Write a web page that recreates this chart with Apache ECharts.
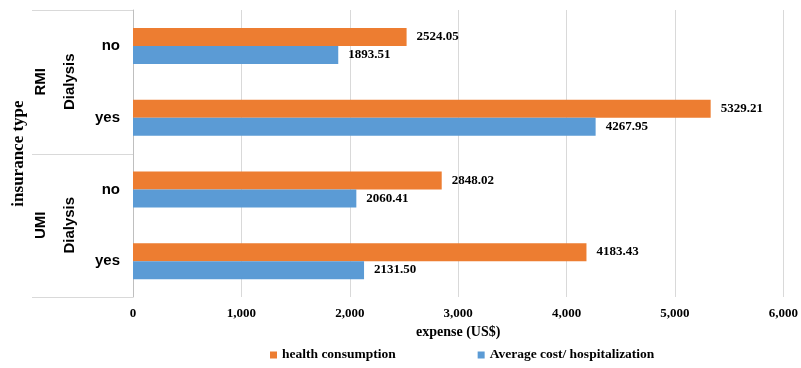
<!DOCTYPE html>
<html>
<head>
<meta charset="utf-8">
<script src="https://cdn.jsdelivr.net/npm/echarts@6/dist/echarts.min.js"></script>
<style>
  html, body { margin: 0; padding: 0; background: #fff; }
  #chart { width: 801px; height: 368px; }
</style>
</head>
<body>
<div id="chart"></div>
<script>
// categories, top to bottom
const dialysis = ["no", "yes", "no", "yes"];
const insurance = ["RMI", "RMI", "UMI", "UMI"];
const categories = ["RMI-no", "RMI-yes", "UMI-no", "UMI-yes"];

const healthConsumption = [2524.05, 5329.21, 2848.02, 4183.43];
const avgCost = [1893.51, 4267.95, 2060.41, 2131.50];

const xTicks = [0, 1000, 2000, 3000, 4000, 5000, 6000];

const ORANGE = "#ED7D31";
const BLUE = "#5B9BD5";
const SERIF = "'Liberation Serif', 'Times New Roman', serif";
const SANS = "'Liberation Sans', Arial, sans-serif";

const chart = echarts.init(document.getElementById("chart"));

const valueLabel = {
  show: true,
  position: "right",
  distance: 10,
  fontFamily: SERIF,
  fontWeight: "bold",
  fontSize: 13,
  color: "#000",
  formatter: (p) => p.value.toFixed(2),
};

const option = {
  animation: false,
  grid: { left: 133, right: 14, top: 10, bottom: 71 },
  legend: {
    bottom: 1,
    left: 265,
    itemWidth: 7,
    itemHeight: 7,
    itemGap: 82,
    icon: "rect",
    textStyle: {
      fontFamily: SERIF,
      fontWeight: "bold",
      fontSize: 13.5,
      color: "#000",
    },
    data: ["health consumption", "Average cost/ hospitalization"],
  },
  xAxis: {
    type: "value",
    min: xTicks[0],
    max: xTicks[xTicks.length - 1],
    interval: 1000,
    name: "expense (US$)",
    nameLocation: "middle",
    nameGap: 21,
    nameTextStyle: {
      fontFamily: SERIF,
      fontWeight: "bold",
      fontSize: 14,
      color: "#000",
    },
    axisLine: { show: false },
    axisTick: { show: false },
    axisLabel: {
      margin: 10,
      fontFamily: SERIF,
      fontWeight: "bold",
      fontSize: 13,
      color: "#000",
      formatter: (v) => v.toLocaleString("en-US"),
    },
    splitLine: { lineStyle: { color: "#d9d9d9", width: 1 } },
  },
  yAxis: {
    type: "category",
    inverse: true,
    data: categories,
    axisLine: { show: true, lineStyle: { color: "#bfbfbf" } },
    axisTick: { show: false },
    axisLabel: {
      margin: 13,
      fontFamily: SANS,
      fontWeight: "bold",
      fontSize: 15,
      color: "#000",
      formatter: (v, i) => dialysis[i],
    },
  },
  series: [
    {
      name: "health consumption",
      type: "bar",
      data: healthConsumption,
      barWidth: 18,
      barGap: "0%",
      itemStyle: { color: ORANGE },
      label: valueLabel,
    },
    {
      name: "Average cost/ hospitalization",
      type: "bar",
      data: avgCost,
      barWidth: 18,
      barGap: "0%",
      itemStyle: { color: BLUE },
      label: valueLabel,
    },
  ],
};

chart.setOption(option);

// group labels and separator lines, placed from the category axis scale
const groups = ["RMI", "UMI"];
const graphics = [];
const yOf = (i) => chart.convertToPixel({ yAxisIndex: 0 }, i);
const band = yOf(1) - yOf(0);
const axisX = chart.convertToPixel({ xAxisIndex: 0 }, 0);
const lineColor = "#d9d9d9";

const boundaries = [yOf(0) - band / 2];
groups.forEach((g) => {
  const idx = insurance.map((v, i) => (v === g ? i : -1)).filter((i) => i >= 0);
  const top = yOf(idx[0]) - band / 2;
  const bottom = yOf(idx[idx.length - 1]) + band / 2;
  boundaries.push(bottom);
  const mid = (top + bottom) / 2;
  graphics.push({
    type: "text",
    x: 41, y: mid, rotation: Math.PI / 2,
    style: { text: g, fontFamily: SANS, fontWeight: "bold", fontSize: 15,
      fill: "#000", align: "center", verticalAlign: "middle" },
  });
  graphics.push({
    type: "text",
    x: 70, y: mid, rotation: Math.PI / 2,
    style: { text: "Dialysis", fontFamily: SANS, fontWeight: "bold", fontSize: 15,
      fill: "#000", align: "center", verticalAlign: "middle" },
  });
});
boundaries.forEach((b) => {
  graphics.push({
    type: "line",
    shape: { x1: 32, y1: Math.round(b) + 0.5, x2: axisX, y2: Math.round(b) + 0.5 },
    style: { stroke: lineColor, lineWidth: 1 },
  });
});
graphics.push({
  type: "text",
  x: 19, y: (boundaries[0] + boundaries[boundaries.length - 1]) / 2,
  rotation: Math.PI / 2,
  style: { text: "insurance type", fontFamily: SERIF, fontWeight: "bold", fontSize: 17,
    fill: "#000", align: "center", verticalAlign: "middle" },
});

chart.setOption({ graphic: graphics });
</script>
</body>
</html>
